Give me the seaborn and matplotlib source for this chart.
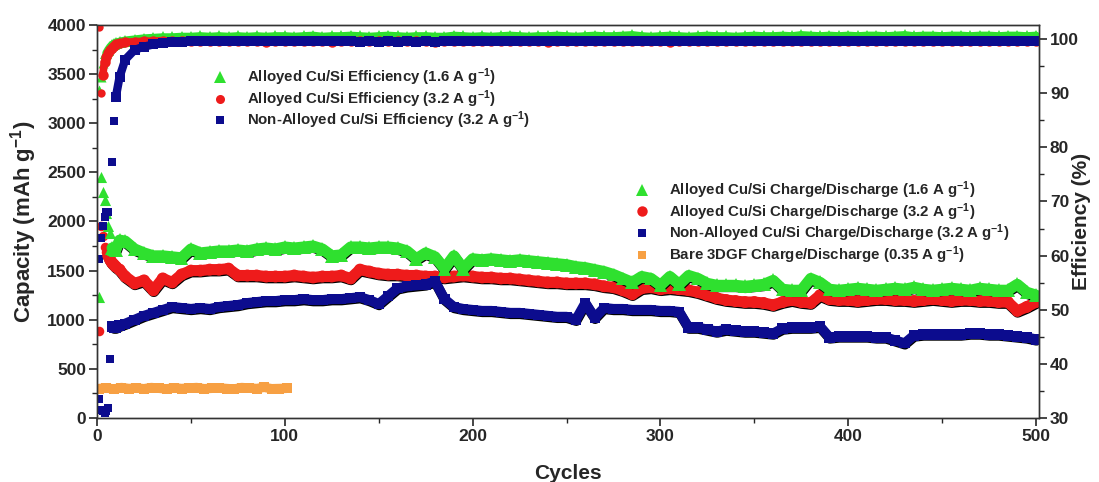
import numpy as np
import pandas as pd
import matplotlib
matplotlib.use("Agg")
import matplotlib.pyplot as plt
import seaborn as sns
import matplotlib.patheffects as pe
from matplotlib.lines import Line2D
from matplotlib.ticker import MultipleLocator

# ---------------- data ----------------
cycles_early = [1, 2, 3, 4, 5, 6, 7, 8, 9, 10, 12]
cycles_main = list(range(15, 501, 5))
cycles = cycles_early + cycles_main
cycles_bare = list(range(1, 102, 4))

cap_alloy_16 = [1230, 2450, 2300, 2220, 2090, 1950, 1880, 1730, 1720, 1710, 1810,
    1800, 1720, 1680, 1650, 1650, 1640, 1630, 1720, 1680, 1690,
    1700, 1700, 1710, 1700, 1720, 1730, 1720, 1740, 1730, 1740,
    1750, 1720, 1650, 1660, 1740, 1740, 1730, 1740, 1740, 1730,
    1700, 1620, 1680, 1640, 1520, 1650, 1520, 1620, 1610, 1620,
    1610, 1600, 1610, 1600, 1590, 1580, 1570, 1560, 1540, 1530,
    1510, 1490, 1460, 1420, 1380, 1440, 1420, 1350, 1440, 1360,
    1450, 1420, 1370, 1350, 1350, 1350, 1340, 1350, 1360, 1400,
    1310, 1300, 1300, 1420, 1380, 1310, 1300, 1310, 1320, 1310,
    1300, 1310, 1320, 1310, 1330, 1310, 1300, 1310, 1320, 1310,
    1300, 1320, 1310, 1300, 1300, 1360, 1280, 1250]

cap_alloy_32 = [890, 1950, 1850, 1740, 1690, 1650, 1610, 1580, 1560, 1540, 1510,
    1440, 1370, 1400, 1300, 1420, 1380, 1460, 1500, 1500, 1510,
    1510, 1520, 1450, 1450, 1450, 1440, 1440, 1440, 1450, 1440,
    1430, 1440, 1440, 1450, 1420, 1510, 1490, 1470, 1460, 1460,
    1450, 1450, 1440, 1440, 1430, 1440, 1450, 1440, 1430, 1430,
    1420, 1420, 1410, 1400, 1390, 1380, 1380, 1370, 1370, 1370,
    1360, 1340, 1330, 1300, 1260, 1320, 1330, 1310, 1320, 1310,
    1300, 1280, 1250, 1220, 1200, 1190, 1180, 1180, 1170, 1150,
    1180, 1200, 1180, 1170, 1250, 1210, 1200, 1200, 1190, 1200,
    1210, 1210, 1200, 1200, 1190, 1200, 1210, 1200, 1190, 1200,
    1200, 1190, 1190, 1180, 1180, 1090, 1130, 1180]

cap_nonalloy_32 = [1620, 1830, 1950, 2050, 2100, 2100, 1620, 930, 920, 920, 940,
    960, 1000, 1040, 1070, 1100, 1130, 1120, 1110, 1120, 1110,
    1130, 1140, 1150, 1170, 1180, 1190, 1190, 1200, 1200, 1210,
    1200, 1200, 1210, 1210, 1220, 1230, 1200, 1160, 1240, 1320,
    1340, 1350, 1360, 1390, 1210, 1130, 1110, 1100, 1090, 1090,
    1080, 1070, 1070, 1060, 1050, 1040, 1030, 1030, 1000, 1170,
    1020, 1120, 1110, 1110, 1100, 1100, 1100, 1090, 1090, 1080,
    920, 920, 900, 880, 900, 890, 880, 880, 870, 860,
    910, 920, 920, 920, 930, 820, 830, 830, 830, 830,
    820, 820, 790, 760, 840, 850, 850, 850, 850, 850,
    860, 860, 850, 850, 840, 830, 820, 800]

cap_bare = [300, 305, 295, 310, 300, 305, 298, 310, 302, 296, 308, 300, 305,
            310, 298, 302, 306, 300, 295, 310, 305, 300, 312, 298, 300, 302]

eff_alloy_16 = [90.6, 93.0, 95.5, 96.8, 97.4, 98.0, 98.5, 98.9, 99.1, 99.3, 99.5,
    99.7, 99.9, 100.1, 100.2, 100.3, 100.3, 100.4, 100.4, 100.5, 100.4,
    100.5, 100.4, 100.5, 100.4, 100.5, 100.4, 100.5, 100.5, 100.4, 100.5,
    100.6, 100.4, 100.5, 100.5, 100.6, 100.5, 100.4, 100.5, 100.6, 100.5,
    100.4, 100.5, 100.5, 100.4, 100.4, 100.6, 100.5, 100.4, 100.5, 100.4,
    100.5, 100.6, 100.5, 100.4, 100.5, 100.5, 100.6, 100.5, 100.4, 100.5,
    100.6, 100.5, 100.5, 100.6, 100.7, 100.5, 100.4, 100.5, 100.6, 100.5,
    100.4, 100.5, 100.6, 100.5, 100.5, 100.4, 100.5, 100.6, 100.5, 100.5,
    100.6, 100.5, 100.7, 100.6, 100.5, 100.6, 100.5, 100.6, 100.5, 100.6,
    100.6, 100.5, 100.6, 100.7, 100.5, 100.6, 100.6, 100.5, 100.6, 100.6,
    100.5, 100.6, 100.6, 100.5, 100.6, 100.6, 100.5, 100.6]

eff_alloy_32 = [102.2, 90.0, 93.3, 95.8, 96.7, 97.5, 98.0, 98.4, 98.7, 99.0, 99.2,
    99.4, 99.5, 99.6, 99.6, 99.7, 99.6, 99.7, 99.7, 99.6, 99.7,
    99.6, 99.7, 99.7, 99.6, 99.7, 99.5, 99.6, 99.7, 99.7, 99.6,
    99.7, 99.6, 99.5, 99.6, 99.7, 99.7, 99.6, 99.7, 99.6, 99.7,
    99.6, 99.7, 99.6, 99.5, 99.6, 99.7, 99.7, 99.6, 99.7, 99.6,
    99.7, 99.6, 99.7, 99.7, 99.6, 99.5, 99.6, 99.7, 99.6, 99.7,
    99.6, 99.7, 99.6, 99.7, 99.6, 99.7, 99.7, 99.6, 99.5, 99.6,
    99.7, 99.6, 99.7, 99.6, 99.7, 99.6, 99.7, 99.6, 99.7, 99.6,
    99.7, 99.6, 99.7, 99.7, 99.6, 99.7, 99.6, 99.7, 99.6, 99.7,
    99.6, 99.7, 99.6, 99.7, 99.7, 99.6, 99.7, 99.6, 99.7, 99.6,
    99.7, 99.6, 99.7, 99.6, 99.7, 99.6, 99.7, 99.6]

eff_nonalloy_32 = [33.6, 31.5, 31.2, 31.0, 31.3, 31.8, 40.9, 77.3, 84.8, 89.3, 93.0,
    96.2, 98.0, 98.6, 99.0, 99.3, 99.4, 99.5, 99.6, 99.6, 99.6,
    99.7, 99.6, 99.7, 99.6, 99.7, 99.6, 99.7, 99.6, 99.6, 99.7,
    99.6, 99.7, 99.6, 99.7, 99.6, 99.5, 99.6, 99.5, 99.6, 99.5,
    99.6, 99.5, 99.6, 99.5, 99.6, 99.6, 99.7, 99.6, 99.7, 99.6,
    99.7, 99.6, 99.7, 99.6, 99.7, 99.6, 99.7, 99.6, 99.7, 99.6,
    99.7, 99.6, 99.7, 99.6, 99.7, 99.6, 99.7, 99.6, 99.7, 99.6,
    99.7, 99.6, 99.7, 99.6, 99.7, 99.6, 99.7, 99.6, 99.7, 99.6,
    99.7, 99.6, 99.7, 99.6, 99.7, 99.6, 99.7, 99.6, 99.7, 99.6,
    99.7, 99.6, 99.7, 99.6, 99.7, 99.6, 99.7, 99.6, 99.7, 99.6,
    99.7, 99.6, 99.7, 99.6, 99.7, 99.6, 99.7, 99.6]

labels_eff = ["Alloyed Cu/Si Efficiency (1.6 A g$^{-1}$)",
              "Alloyed Cu/Si Efficiency (3.2 A g$^{-1}$)",
              "Non-Alloyed Cu/Si Efficiency (3.2 A g$^{-1}$)"]
labels_cap = ["Alloyed Cu/Si Charge/Discharge (1.6 A g$^{-1}$)",
              "Alloyed Cu/Si Charge/Discharge (3.2 A g$^{-1}$)",
              "Non-Alloyed Cu/Si Charge/Discharge (3.2 A g$^{-1}$)",
              "Bare 3DGF Charge/Discharge (0.35 A g$^{-1}$)"]

# ---------------- style ----------------
sns.set_theme(style="ticks")
plt.rcParams["font.family"] = ["Liberation Sans", "DejaVu Sans"]
plt.rcParams["font.weight"] = "bold"
plt.rcParams["mathtext.fontset"] = "custom"
plt.rcParams["mathtext.rm"] = "Liberation Sans:bold"
plt.rcParams["mathtext.bf"] = "Liberation Sans:bold"
plt.rcParams["mathtext.default"] = "bf"

GREEN = "#2fe02f"
RED = "#ee1b1b"
BLUE = "#0c0c8e"
ORANGE = "#f7a043"

fig = plt.figure(figsize=(10.99, 4.82), dpi=100)
ax = fig.add_axes([0.0883, 0.1328, 0.857, 0.8154])
ax2 = ax.twinx()

df = pd.DataFrame({"cycle": cycles, "c16": cap_alloy_16, "c32": cap_alloy_32,
                   "n32": cap_nonalloy_32, "e16": eff_alloy_16,
                   "e32": eff_alloy_32, "en32": eff_nonalloy_32})
dfb = pd.DataFrame({"cycle": cycles_bare, "cap": cap_bare})

SHADOW = [pe.SimpleLineShadow(offset=(0.3, -0.9), shadow_color="black", alpha=1.0), pe.Normal()]


def band(axis, data, col, marker, color, ms, lw, start, shadow):
    """Scatter the scattered first cycles, then a dense marker band."""
    if start > 0:
        sns.scatterplot(data=data.iloc[:start], x="cycle", y=col, ax=axis,
                        marker=marker, s=(ms * 0.8) ** 2, color=color,
                        linewidth=0, legend=False)
    sns.lineplot(data=data.iloc[start:], x="cycle", y=col, ax=axis, color=color,
                 linewidth=lw, marker=marker, markersize=ms, markeredgewidth=0,
                 estimator=None, sort=False, legend=False,
                 solid_joinstyle="round", solid_capstyle="round")
    if shadow:
        axis.lines[-1].set_path_effects(SHADOW)


# capacity (left axis)
band(ax, dfb, "cap", "s", ORANGE, 7.0, 6.8, 0, False)
band(ax, df, "c32", "o", RED, 8.6, 8.0, 5, True)
band(ax, df, "c16", "^", GREEN, 10.0, 8.0, 7, True)
band(ax, df, "n32", "s", BLUE, 7.4, 7.2, 7, True)

# efficiency (right axis)
band(ax2, df, "e16", "^", GREEN, 9.0, 6.0, 4, False)
band(ax2, df, "e32", "o", RED, 7.5, 5.5, 2, False)
band(ax2, df, "en32", "s", BLUE, 7.0, 6.0, 9, False)

# ---------------- axes ----------------
ax.set_xlim(0, 501.5)
ax.set_ylim(0, 4000)
ax2.set_ylim(30, 102.6)
ax.xaxis.set_major_locator(MultipleLocator(100))
ax.xaxis.set_minor_locator(MultipleLocator(50))
ax.yaxis.set_major_locator(MultipleLocator(500))
ax.yaxis.set_minor_locator(MultipleLocator(250))
ax2.yaxis.set_major_locator(MultipleLocator(10))
ax2.yaxis.set_minor_locator(MultipleLocator(5))

TICK_FS = 12.5
for a in (ax, ax2):
    a.tick_params(which="major", direction="out", length=6, width=1.2, labelsize=TICK_FS, pad=2)
    a.tick_params(which="minor", direction="out", length=3.5, width=1.0)
    for sp in a.spines.values():
        sp.set_visible(True)
        sp.set_color("#333333")
        sp.set_linewidth(1.0)
ax.tick_params(axis="x", which="both", top=False)
ax.tick_params(axis="y", which="both", right=False)
for lab in ax.get_xticklabels() + ax.get_yticklabels() + ax2.get_yticklabels():
    lab.set_fontweight("bold")

ax.set_xlabel("Cycles", fontsize=15, fontweight="bold", labelpad=14)
ax.set_ylabel("Capacity (mAh g$^{-1}$)", fontsize=16, fontweight="bold", labelpad=6)
ax2.set_ylabel("Efficiency (%)", fontsize=15, fontweight="bold")
ax2.yaxis.set_label_coords(1.035, 0.5)

# ---------------- legends ----------------
LEG_FS = 10.8
def proxy(marker, color, ms):
    return Line2D([], [], linestyle="none", marker=marker, color=color,
                  markersize=ms, markeredgewidth=0)

h_eff = [proxy("^", GREEN, 8.0), proxy("o", RED, 6.5), proxy("s", BLUE, 6.0)]
h_cap = [proxy("^", GREEN, 8.0), proxy("o", RED, 7.5), proxy("s", BLUE, 6.0), proxy("s", ORANGE, 6.0)]

leg1 = ax2.legend(h_eff, labels_eff, loc="upper left", bbox_to_anchor=(0.1225, 0.894),
                  frameon=False, handlelength=1.0, handletextpad=1.3,
                  labelspacing=0.0, borderpad=0, borderaxespad=0,
                  prop={"weight": "bold", "size": LEG_FS})
ax2.add_artist(leg1)
leg2 = ax2.legend(h_cap, labels_cap, loc="upper left", bbox_to_anchor=(0.571, 0.607),
                  frameon=False, handlelength=1.0, handletextpad=1.3,
                  labelspacing=0.0, borderpad=0, borderaxespad=0,
                  prop={"weight": "bold", "size": LEG_FS})

fig.savefig("out.png", dpi=100)
